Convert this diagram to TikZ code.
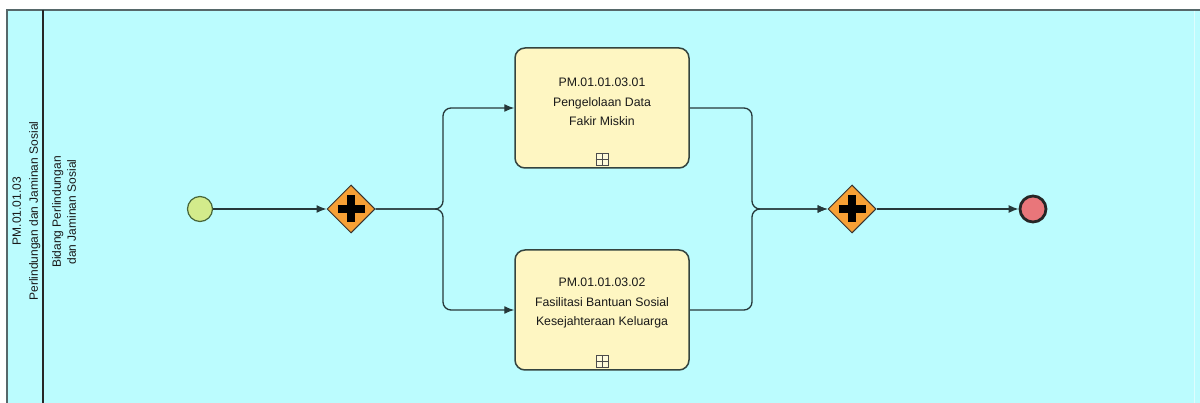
\documentclass[tikz,border=0pt]{standalone}
\usepackage{fontspec}
\setmainfont{Liberation Sans}
\usetikzlibrary{arrows.meta,positioning,calc,shapes.geometric}

\definecolor{poolbg}{HTML}{BBFCFE}
\definecolor{poolline}{HTML}{56686A}
\definecolor{flowline}{HTML}{26383A}
\definecolor{taskfill}{HTML}{FEF6C2}
\definecolor{taskline}{HTML}{34443F}
\definecolor{gatefill}{HTML}{F7A035}
\definecolor{startfill}{HTML}{D3EB8B}
\definecolor{startline}{HTML}{47663A}
\definecolor{endfill}{HTML}{E9767A}

\tikzset{
  flow/.style={draw=flowline,line width=1.3pt,rounded corners=8pt,arrows=->},
  startev/.style={circle,draw=startline,fill=startfill,line width=1.2pt,minimum size=25pt,inner sep=0pt},
  endev/.style={circle,draw=black!85,fill=endfill,line width=2.8pt,minimum size=26pt,inner sep=0pt},
  gate/.style={diamond,draw=black!80,fill=gatefill,line width=1pt,minimum width=48pt,minimum height=48pt,inner sep=0pt},
  plusbar/.style={line width=8pt,black},
  task/.style={rectangle,rounded corners=10pt,draw=taskline,fill=taskfill,line width=1.5pt,minimum width=174pt,minimum height=120pt},
  tasktext/.style={align=center,font=\fontsize{12.3}{19.5}\selectfont,text=black!90},
  submark/.style={rectangle,draw=black!70,fill=taskfill!60!white,line width=0.8pt,minimum size=12pt,inner sep=0pt},
  lanetext/.style={rotate=90,align=center,text=black!90}
}

\begin{document}
\begin{tikzpicture}[x=1pt,y=-1pt,>={Latex[length=10pt,width=8pt]}]
  \useasboundingbox (0,0) rectangle (1200,403);
  % pool and lane
  \fill[poolbg] (7,10) rectangle (1200,403);
  \draw[poolline,line width=1.5pt] (7,403) -- (7,10) -- (1200,10);
  \draw[white!50!poolbg,line width=0.8pt] (1194,11) -- (1194,403);
  \draw[black!85,line width=2.2pt] (43,10) -- (43,403);
  \node[lanetext,font=\fontsize{12}{17}\selectfont] (pool) at (26.5,211) {PM.01.01.03\\Perlindungan dan Jaminan Sosial};
  \node[lanetext,font=\fontsize{12}{15}\selectfont] (lane) at (64,212) {Bidang Perlindungan\\dan Jaminan Sosial};

  % events and gateways
  \node[startev] (start) at (200,209) {};
  \node[gate] (g1) at (351,209) {};
  \draw[plusbar] (g1.center) ++(-13.5,0) -- ++(27,0);
  \draw[plusbar] (g1.center) ++(0,-13.5) -- ++(0,27);
  \node[gate] (g2) at (852,209) {};
  \draw[plusbar] (g2.center) ++(-13.5,0) -- ++(27,0);
  \draw[plusbar] (g2.center) ++(0,-13.5) -- ++(0,27);
  \node[endev] (end) at (1033,209) {};

  % tasks
  \node[task] (t1) at (602,108) {};
  \node[tasktext] (t1 text) at ($(t1.center)+(0,-6)$) {PM.01.01.03.01\\Pengelolaan Data\\Fakir Miskin};
  \node[submark] (m1) at ($(t1.south)+(0,-9)$) {};
  \draw[black!70,line width=0.8pt] (m1.north) -- (m1.south) (m1.west) -- (m1.east);
  \node[task] (t2) at (602,310) {};
  \node[tasktext] (t2 text) at ($(t2.center)+(0,-7)$) {PM.01.01.03.02\\Fasilitasi Bantuan Sosial\\Kesejahteraan Keluarga};
  \node[submark] (m2) at ($(t2.south)+(0,-9)$) {};
  \draw[black!70,line width=0.8pt] (m2.north) -- (m2.south) (m2.west) -- (m2.east);

  % flows
  \coordinate (split) at (443,209);
  \coordinate (merge) at (752,209);
  \draw[flow] (start) -- (g1);
  \draw[flow] (g1.east) -- (split) -- (split |- t1.west) -- (t1.west);
  \draw[flow] (g1.east) -- (split) -- (split |- t2.west) -- (t2.west);
  \draw[flow] (t1.east) -- (merge |- t1.east) -- (merge) -- (g2.west);
  \draw[flow] (t2.east) -- (merge |- t2.east) -- (merge) -- (g2.west);
  \draw[flow] (g2) -- (end);
\end{tikzpicture}
\end{document}
